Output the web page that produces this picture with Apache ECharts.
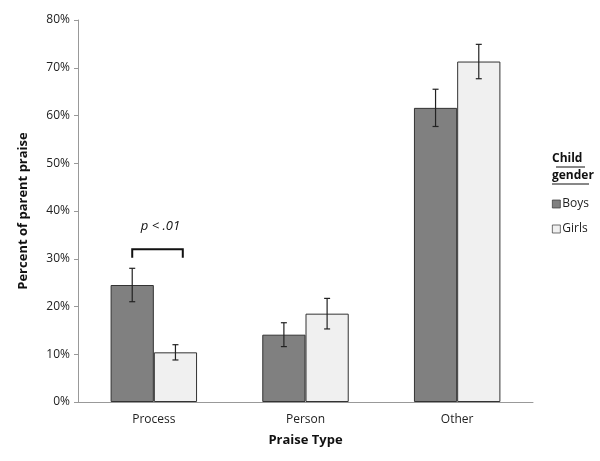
<!DOCTYPE html>
<html>
<head>
<meta charset="utf-8">
<script src="https://cdn.jsdelivr.net/npm/echarts@6/dist/echarts.min.js"></script>
<style>
  html, body { margin: 0; padding: 0; background: #fff; }
  #chart { width: 600px; height: 461px; }
</style>
</head>
<body>
<div id="chart"></div>
<script>
// praise type categories
const categories = ['Process', 'Person', 'Other']
// percent of parent praise
const boys = [24.5, 14.1, 61.6]
const girls = [10.4, 18.5, 71.3]
// +/- error (percent)
const boysErr = [3.5, 2.5, 3.9]
const girlsErr = [1.6, 3.2, 3.6]
// significance bracket over Process: [category, top, leg bottom]
const bracket = [[0, 32.0, 30.2]]

const font = 'Open Sans'
const gapRatio = 0.43

const chart = echarts.init(document.getElementById('chart'))

function errorSeries(name, values, errs, side) {
  return {
    name: name + ' err',
    type: 'custom',
    z: 5,
    silent: true,
    data: values.map((v, i) => [i, v - errs[i], v + errs[i]]),
    renderItem: (params, api) => {
      const band = api.size([1, 0])[0]
      const bw = band * (1 - gapRatio) / 2
      const lo = api.coord([api.value(0), api.value(1)])
      const hi = api.coord([api.value(0), api.value(2)])
      const x = lo[0] + side * bw / 2
      const cap = 3
      const style = { stroke: '#222', lineWidth: 1.2 }
      return {
        type: 'group',
        children: [
          { type: 'line', shape: { x1: x, y1: hi[1], x2: x, y2: lo[1] }, style },
          { type: 'line', shape: { x1: x - cap, y1: hi[1], x2: x + cap, y2: hi[1] }, style },
          { type: 'line', shape: { x1: x - cap, y1: lo[1], x2: x + cap, y2: lo[1] }, style }
        ]
      }
    }
  }
}

const option = {
  animation: false,
  textStyle: { fontFamily: font },
  grid: { left: 78, right: 67, top: 20, bottom: 59 },
  legend: {
    data: ['Boys', 'Girls'],
    orient: 'vertical',
    left: 547,
    top: 193,
    itemWidth: 8,
    itemHeight: 8,
    itemGap: 13,
    icon: 'rect',
    itemStyle: { borderWidth: 0.7 },
    textStyle: { fontFamily: font, fontSize: 12, color: '#222', padding: [0, 0, 0, -3] }
  },
  graphic: [
    {
      type: 'text',
      left: 552,
      top: 150,
      style: {
        text: 'Child\ngender',
        fontFamily: font,
        fontSize: 12,
        fontWeight: 'bold',
        fill: '#111',
        align: 'center',
        lineHeight: 17
      }
    },
    { type: 'line', shape: { x1: 556, y1: 167, x2: 585, y2: 167 }, style: { stroke: '#111', lineWidth: 1 } },
    { type: 'line', shape: { x1: 552, y1: 184, x2: 589, y2: 184 }, style: { stroke: '#111', lineWidth: 1 } }
  ],
  xAxis: {
    type: 'category',
    data: categories,
    name: 'Praise Type',
    nameLocation: 'middle',
    nameGap: 32,
    nameTextStyle: { fontFamily: font, fontSize: 13, fontWeight: 'bold', color: '#111' },
    axisLine: { lineStyle: { color: '#999' } },
    axisTick: { length: 4, lineStyle: { color: '#999' } },
    axisLabel: { fontFamily: font, fontSize: 12, color: '#222', margin: 12 }
  },
  yAxis: {
    type: 'value',
    min: 0,
    max: 80,
    interval: 10,
    name: 'Percent of parent praise',
    nameLocation: 'middle',
    nameGap: 48,
    nameTextStyle: { fontFamily: font, fontSize: 13, fontWeight: 'bold', color: '#111' },
    axisLine: { show: true, lineStyle: { color: '#999' } },
    axisTick: { show: true, length: 4, lineStyle: { color: '#999' } },
    axisLabel: { fontFamily: font, fontSize: 12, color: '#222', formatter: '{value}%', margin: 8 },
    splitLine: { show: false }
  },
  series: [
    {
      name: 'Boys',
      type: 'bar',
      data: boys,
      barGap: 0,
      barCategoryGap: (gapRatio * 100) + '%',
      itemStyle: { color: '#808080', borderColor: '#333', borderWidth: 1 }
    },
    {
      name: 'Girls',
      type: 'bar',
      data: girls,
      itemStyle: { color: '#f0f0f0', borderColor: '#333', borderWidth: 1 }
    },
    errorSeries('Boys', boys, boysErr, -1),
    errorSeries('Girls', girls, girlsErr, 1),
    {
      name: 'sig',
      type: 'custom',
      z: 6,
      silent: true,
      data: bracket,
      renderItem: (params, api) => {
        const band = api.size([1, 0])[0]
        const bw = band * (1 - gapRatio) / 2
        const top = api.coord([api.value(0), api.value(1)])
        const leg = api.coord([api.value(0), api.value(2)])
        const x1 = top[0] - bw * 0.5
        const x2 = top[0] + bw * 0.67
        const style = { stroke: '#111', lineWidth: 2, fill: null }
        return {
          type: 'group',
          children: [
            {
              type: 'polyline',
              shape: { points: [[x1, leg[1]], [x1, top[1]], [x2, top[1]], [x2, leg[1]]] },
              style
            },
            {
              type: 'text',
              x: (x1 + x2) / 2 + 3,
              y: top[1] - 23,
              style: {
                text: 'p < .01',
                fontFamily: font,
                fontSize: 13,
                fontStyle: 'italic',
                fill: '#111',
                align: 'center',
                verticalAlign: 'middle'
              }
            }
          ]
        }
      }
    }
  ]
}

chart.setOption(option)
</script>
</body>
</html>
